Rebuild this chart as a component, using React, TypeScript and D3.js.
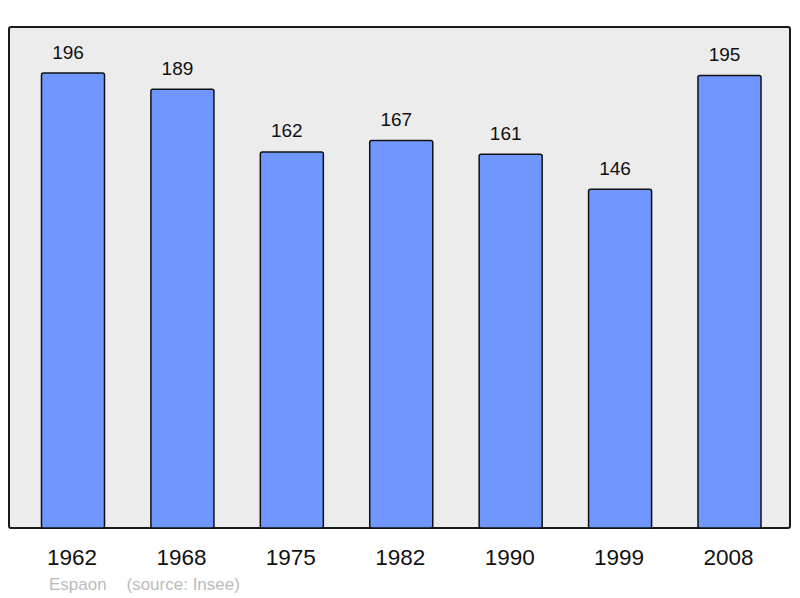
import React from 'react';
import * as d3 from 'd3';

const years = ['1962', '1968', '1975', '1982', '1990', '1999', '2008'];
const population = [196, 189, 162, 167, 161, 146, 195];
const townName = 'Espaon';
const sourceNote = '(source: Insee)';

const width = 800;
const height = 598;
const panel = { left: 9, top: 27, right: 790, bottom: 528 };

export default function App() {
  const x = d3.scaleBand<string>()
    .domain(years)
    .range([18.3, 784.2])
    .paddingInner(0.424)
    .paddingOuter(0.212);

  const y = d3.scaleLinear()
    .domain([0, 200])
    .range([panel.bottom, panel.bottom - 464.2]);

  return (
    <svg width={width} height={height}
      style={{ position: 'absolute', left: 0, top: 0 }}
      fontFamily="'Liberation Sans', Arial, sans-serif">
      <rect x={panel.left} y={panel.top}
        width={panel.right - panel.left} height={panel.bottom - panel.top}
        rx={2} fill="#ececec" stroke="#1a1a1a" strokeWidth={2} />
      {years.map((yr, i) => {
        const bx = x(yr) as number;
        const cx = bx + x.bandwidth() / 2;
        const top = y(population[i]);
        return (
          <g key={yr}>
            <rect x={bx} y={top} width={x.bandwidth()} height={panel.bottom - top}
              rx={2} fill="#7096ff" stroke="#111" strokeWidth={1.5} />
            <text x={cx - 5} y={top - 14.5} textAnchor="middle" fontSize={19} fill="#111">
              {population[i]}
            </text>
            <text x={cx - 1} y={564.5} textAnchor="middle" fontSize={22.5} fill="#111">
              {yr}
            </text>
          </g>
        );
      })}
      <text x={49} y={590} fontSize={17} fill="#bbbbbb">{townName}</text>
      <text x={126.5} y={590} fontSize={17} fill="#bbbbbb">{sourceNote}</text>
    </svg>
  );
}
